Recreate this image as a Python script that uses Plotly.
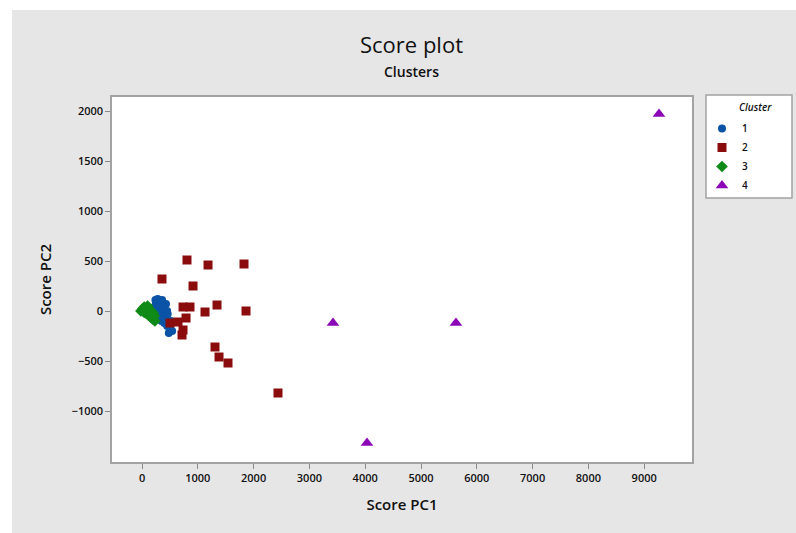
import plotly.graph_objects as go

# Principal-component scores for each cluster
c1_pc1 = [250, 300, 220, 350, 280, 400, 450, 320, 380, 420, 260, 300, 350, 400, 450, 500, 540, 480, 240, 280, 330, 460, 380, 300, 520, 430, 360]
c1_pc2 = [80, 60, 40, 50, 20, 30, 0, -10, -40, -60, -20, -80, -100, -120, -150, -170, -200, -220, 110, 120, 90, -30, 10, -50, -100, 70, 110]

c2_pc1 = [806, 1183, 1828, 358, 914, 735, 860, 1344, 1129, 1864, 502, 645, 789, 717, 735, 1308, 1380, 1541, 2437]
c2_pc2 = [510, 460, 470, 320, 250, 40, 40, 60, -10, 0, -120, -110, -70, -240, -190, -360, -460, -520, -820]

c3_pc1 = [-20, 10, 40, 80, 120, 160, 200, 110, 150, 190, 230, 60, 30, 100, 220]
c3_pc2 = [0, 20, 40, 30, 10, 0, -20, -40, -60, -80, -100, -20, -10, 50, -50]

c4_pc1 = [3423, 5627, 4032, 9265]
c4_pc2 = [-120, -120, -1320, 1970]

clusters = [
    ("1", c1_pc1, c1_pc2, "circle", "#0b53a6", 8),
    ("2", c2_pc1, c2_pc2, "square", "#8a0c0c", 9),
    ("3", c3_pc1, c3_pc2, "diamond", "#0f8a17", 9),
    ("4", c4_pc1, c4_pc2, "triangle-up", "#8a06b6", 11),
]

x_ticks = [0, 1000, 2000, 3000, 4000, 5000, 6000, 7000, 8000, 9000]
y_ticks = [-1000, -500, 0, 500, 1000, 1500, 2000]

fig = go.Figure()
for name, xs, ys, sym, col, sz in clusters:
    fig.add_trace(go.Scatter(
        x=xs, y=ys, mode="markers", name=name,
        marker=dict(symbol=sym, color=col, size=sz, line=dict(width=0)),
    ))

W, H = 796, 533
L, R, T, B = 112, 104, 97, 71
pw, ph = W - L - R, H - T - B

def px_x(p):
    return (p - L) / pw

def px_y(p):
    return (H - B - p) / ph

FONT = "Open Sans"
INK = "#111111"
tick_font = dict(family=FONT, size=11, color=INK, weight=600)
axis_common = dict(
    showgrid=False, zeroline=False, showline=True, mirror=True,
    linecolor="#a3a3a3", linewidth=1.5, ticks="outside", ticklen=5,
    tickcolor="#8a8a8a", tickwidth=1, tickfont=tick_font,
)

fig.update_layout(
    width=W, height=H,
    margin=dict(l=L, r=R, t=T, b=B),
    paper_bgcolor="#e6e6e6", plot_bgcolor="white",
    xaxis=dict(range=[-538, 9857], tickvals=x_ticks, **axis_common,
               title=dict(text="Score PC1", font=dict(family=FONT, size=15, color=INK, weight=600), standoff=16)),
    yaxis=dict(range=[-1510, 2140], tickvals=y_ticks, **axis_common,
               title=dict(text="Score PC2", font=dict(family=FONT, size=15, color=INK, weight=600), standoff=16)),
    legend=dict(
        x=px_x(702), y=px_y(114), xanchor="left", yanchor="top",
        bgcolor="rgba(0,0,0,0)", borderwidth=0,
        font=dict(family=FONT, size=10, color=INK, weight=600),
        itemwidth=30, tracegroupgap=0,
    ),
    showlegend=True,
    shapes=[
        dict(type="rect", xref="paper", yref="paper", x0=px_x(0), x1=px_x(W), y0=px_y(0), y1=px_y(10),
             fillcolor="white", line=dict(width=0), layer="below"),
        dict(type="rect", xref="paper", yref="paper", x0=px_x(0), x1=px_x(12), y0=px_y(0), y1=px_y(H),
             fillcolor="white", line=dict(width=0), layer="below"),
        # legend frame
        dict(type="rect", xref="paper", yref="paper", x0=px_x(706), x1=px_x(792), y0=px_y(198), y1=px_y(95),
             fillcolor="white", line=dict(color="#a3a3a3", width=1.5), layer="below"),
    ],
    annotations=[
        dict(text="Score plot", xref="paper", yref="paper", x=px_x(411), y=px_y(44),
             xanchor="center", yanchor="middle",
             showarrow=False, font=dict(family=FONT, size=22, color=INK)),
        dict(text="Clusters", xref="paper", yref="paper", x=px_x(411), y=px_y(72),
             xanchor="center", yanchor="middle",
             showarrow=False, font=dict(family=FONT, size=14, color=INK, weight=600)),
        dict(text="<i>Cluster</i>", xref="paper", yref="paper", x=px_x(737), y=px_y(107),
             xanchor="left", yanchor="middle",
             showarrow=False, font=dict(family=FONT, size=10, color=INK, weight=600)),
    ],
)

fig.write_html("out.html")
